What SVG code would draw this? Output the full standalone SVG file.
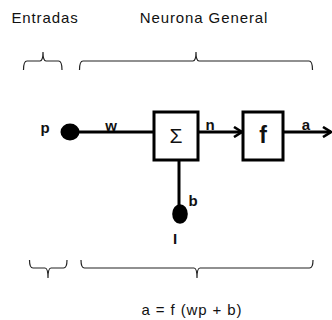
<svg xmlns="http://www.w3.org/2000/svg" width="332" height="320" viewBox="0 0 332 320">
<defs>
<style>
.t{font-family:"Liberation Sans",Arial,sans-serif;fill:#111}
.h{font-size:15px;letter-spacing:0.9px}
.lb{font-size:15px;font-weight:bold}
.br{fill:none;stroke:#222;stroke-width:1.2}
.ln{fill:none;stroke:#000;stroke-width:3}
.bx{fill:#fff;stroke:#000;stroke-width:3}
</style>
<marker id="ah" viewBox="0 0 12 12" refX="10" refY="6" markerWidth="12" markerHeight="12" markerUnits="userSpaceOnUse" orient="auto">
<path d="M2,1 L10,6 L2,11" fill="none" stroke="#000" stroke-width="2.6"/>
</marker>
</defs>
<rect width="332" height="320" fill="#fff"/>
<g id="headers">
<text class="t h" x="45" y="23" text-anchor="middle">Entradas</text>
<text class="t h" x="204" y="23" text-anchor="middle">Neurona General</text>
</g>
<g id="braces-top">
<path class="br" d="M23.5,70 Q23.5,61 27,61 L40,61 Q43,61 43,52 Q43,61 46,61 L58.5,61 Q62,61 62,70"/>
<path class="br" d="M79.5,70 Q79.5,61 83,61 L193,61 Q196,61 196,52 Q196,61 199,61 L309,61 Q312.5,61 312.5,70"/>
</g>
<g id="braces-bottom">
<path class="br" d="M29.5,260 Q29.5,268 33,268 L45,268 Q48,268 48,278 Q48,268 51,268 L63.5,268 Q67,268 67,260"/>
<path class="br" d="M81,260 Q81,268 84.5,268 L194,268 Q197,268 197,278 Q197,268 200,268 L309.5,268 Q313,268 313,260"/>
</g>
<g id="connectors">
<line class="ln" x1="70" y1="132" x2="154" y2="132"/>
<line class="ln" x1="198" y1="132" x2="242" y2="132" marker-end="url(#ah)"/>
<line class="ln" x1="283" y1="132" x2="331" y2="132" marker-end="url(#ah)"/>
<line class="ln" x1="179" y1="160" x2="179" y2="212"/>
</g>
<g id="input-p">
<ellipse cx="70" cy="132" rx="9.5" ry="8.5" fill="#000"/>
<text class="t lb" x="45" y="133" text-anchor="middle">p</text>
</g>
<g id="weight-w">
<text class="t lb" x="111" y="131" text-anchor="middle">w</text>
</g>
<g id="sum">
<rect class="bx" x="154" y="112" width="44" height="48"/>
<text class="t" x="176" y="143" text-anchor="middle" font-size="21">Σ</text>
</g>
<g id="label-n">
<text class="t lb" x="210" y="130" text-anchor="middle">n</text>
</g>
<g id="func-f">
<rect class="bx" x="243" y="112" width="40" height="48"/>
<text class="t" x="263" y="143" text-anchor="middle" font-size="23" font-weight="bold">f</text>
</g>
<g id="label-a">
<text class="t lb" x="306" y="130" text-anchor="middle">a</text>
</g>
<g id="bias">
<ellipse cx="180" cy="214" rx="7.8" ry="9.8" fill="#000"/>
<text class="t lb" x="193" y="206" text-anchor="middle">b</text>
<text class="t lb" x="175" y="244" text-anchor="middle">I</text>
</g>
<g id="formula">
<text class="t h" x="192" y="315" text-anchor="middle">a = f (wp + b)</text>
</g>
</svg>
